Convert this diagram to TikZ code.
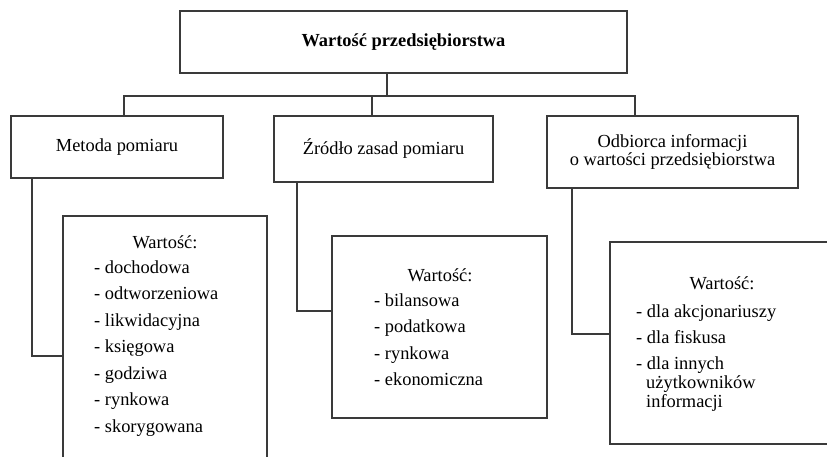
\documentclass[tikz,border=0pt]{standalone}
\usepackage{fontspec}
\setmainfont{Liberation Serif}
\definecolor{lc}{HTML}{3A3A3A}
\begin{document}
\begin{tikzpicture}[x=1pt,y=-1pt,
  box/.style={draw=lc, line width=1.1pt, inner sep=0pt, align=center, font=\fontsize{18.4}{17.5}\selectfont},
  conn/.style={draw=lc, line width=1.1pt},
  lbl/.style={inner sep=0pt, font=\fontsize{18.4}{19}\selectfont, text=black},
  item/.style={lbl, anchor=base west},
  head/.style={lbl, anchor=base}]
\useasboundingbox (0,0) rectangle (827,456);
\clip (0,0) rectangle (827,456);
\fill[white] (0,0) rectangle (827,456);

% top level and categories
\node[box, minimum width=447pt, minimum height=62pt, font=\fontsize{18.4}{20}\selectfont\bfseries] (top) at (403.5,42) {Wartość przedsiębiorstwa};
\node[box, minimum width=212pt, minimum height=62pt] (b1) at (117,147) {Metoda pomiaru};
\node[box, minimum width=219pt, minimum height=66pt] (b2) at (383.5,149) {Źródło zasad pomiaru};
\node[box, minimum width=251pt, minimum height=72pt] (b3) at (672.5,152) {Odbiorca informacji\\o wartości przedsiębiorstwa};

% detail boxes
\node[box, minimum width=204pt, minimum height=274pt] (d1) at (165,353) {};
\node[box, minimum width=215pt, minimum height=182pt] (d2) at (439.5,327) {};
\node[box, minimum width=230pt, minimum height=202pt] (d3) at (725,343) {};

% connectors top -> categories
\coordinate (j) at (387,96);
\coordinate (c1) at (124,96);
\coordinate (c2) at (372,96);
\coordinate (c3) at (635,96);
\draw[conn, line width=1.8pt] (j |- top.south) -- (j);
\draw[conn, line join=miter] (c1 |- b1.north) -- (c1) -- (c3) -- (c3 |- b3.north);
\draw[conn] (c2) -- (c2 |- b2.north);

% connectors categories -> details
\coordinate (k1) at (32,356);
\coordinate (k2) at (297,311);
\coordinate (k3) at (572,334);
\draw[conn, line join=miter] (k1 |- b1.south) -- (k1) -- (k1 -| d1.west);
\draw[conn, line join=miter] (k2 |- b2.south) -- (k2) -- (k2 -| d2.west);
\draw[conn, line join=miter] (k3 |- b3.south) -- (k3) -- (k3 -| d3.west);

% texts of box 1
\node[head] (h1) at (165,248) {Wartość:};
\foreach \t [count=\i from 0] in {dochodowa, odtworzeniowa, likwidacyjna, księgowa, godziwa, rynkowa, skorygowana}
  \node[item] (ia\i) at (94,{273+26.5*\i}) {- \t};

% texts of box 2
\node[head] (h2) at (440,281) {Wartość:};
\foreach \t [count=\i from 0] in {bilansowa, podatkowa, rynkowa, ekonomiczna}
  \node[item] (ib\i) at (374,{306+26.5*\i}) {- \t};

% texts of box 3
\node[head] (h3) at (722,289) {Wartość:};
\node[item] (ic0) at (636,317) {- dla akcjonariuszy};
\node[item] (ic1) at (636,343.5) {- dla fiskusa};
\node[item] (ic2) at (636,369.5) {- dla innych};
\node[item] (ic3) at (646,388.5) {użytkowników};
\node[item] (ic4) at (646,407.5) {informacji};
\end{tikzpicture}
\end{document}
